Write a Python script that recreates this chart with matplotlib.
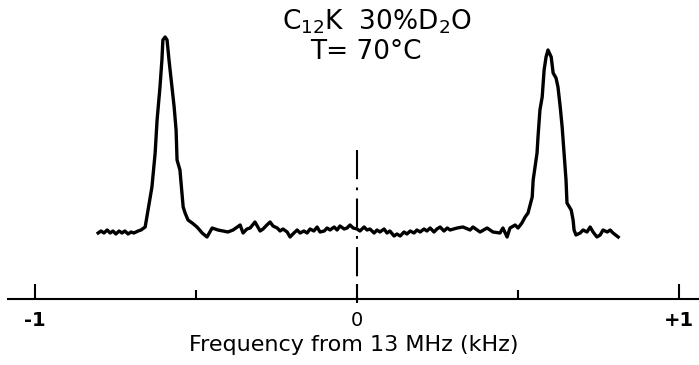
import numpy as np
import matplotlib
matplotlib.use("Agg")
import matplotlib.pyplot as plt

# NMR line shape, C12K 30% D2O at 70 C
freq_hz = [-804, -795, -786, -776, -767, -758, -749, -739, -730, -721, -711, -702, -693, -680, -671,
           -658, -649, -637, -627, -621, -612, -606, -603, -596, -590, -584, -575, -568, -562, -559,
           -550, -540, -534, -525, -512, -497, -481, -466,
           -450, -432, -416, -401, -385, -363, -354, -342, -332, -317, -301, -292, -280, -270, -261,
           -248, -239, -230, -217, -208, -196, -186, -177, -165, -155, -146, -134, -124, -115, -102,
           -93, -84, -71, -62, -53, -40, -31, -22, -12, 0, 9, 22, 31, 40, 53, 62, 71, 84, 93, 102,
           115, 124, 134, 146, 155, 165, 177, 186, 196, 208, 217, 227, 239, 248, 258, 270, 280, 289,
           311, 329, 351, 360, 382, 404, 422, 444, 453, 466, 475, 491, 500, 512, 522, 531, 544, 547,
           559, 562, 568, 575, 581, 587, 593, 603, 609, 618, 624, 631, 637, 643, 649, 652, 665, 671,
           674, 680, 693, 702, 714, 724, 733, 745, 755, 764, 777, 786, 795, 811]
signal = [0, 2, 0, 3, 0, 2, -1, 2, 0, 2, -1, 1, 0, 2, 3,
          6, 23, 46, 80, 113, 146, 173, 193, 196, 193, 173, 146, 126, 103, 73,
          63, 26, 20, 13, 10, 6, 0, -4,
          5, 3, 2, 1, 3, 8, 0, 4, 5, 11, 2, 4, 8, 11, 7,
          5, 2, 4, 1, -4, 0, 3, 0, 2, 0, 4, 2, 6, 1, 2,
          5, 3, 6, 3, 7, 4, 5, 8, 5, 4, 2, 6, 3, 4, 0, 3, 1, 4, 0, 2,
          -3, -1, -3, 1, -1, 2, 0, 3, 1, 4, 2, 5, 1, 4, 6, 2, 5, 3,
          5, 6, 3, 6, 1, 5, 1, 0, 5, -4, 5, 8, 5, 10, 16, 20, 36, 53,
          80, 96, 123, 136, 163, 176, 183, 176, 160, 155, 146, 126, 106, 80, 53, 30, 23, 13,
          3, -2, 0, 3, 1, 6, 1, -4, -2, 3, 1, 3, 0, -4]

tick_pos = [-1, 0, 1]
tick_labels = ["-1", "0", "+1"]
minor_pos = [-0.5, 0.5]

freq = np.array(freq_hz) / 1000.0

fig = plt.figure(figsize=(6.99, 3.65), dpi=100)
ax = fig.add_axes([8 / 699, 66 / 365, 691 / 699, 299 / 365])

ax.plot(freq, signal, color="black", lw=2.4, solid_joinstyle="round")

# dash-dot marker at the carrier frequency
ax.plot([0, 0], [83, -70], color="black", lw=1.5, dashes=(14, 4, 1.3, 4), clip_on=False)

ax.set_xlim(-1.084, 1.062)
ax.set_ylim(-66, 233)

for side in ["left", "top", "right"]:
    ax.spines[side].set_visible(False)
ax.spines["bottom"].set_linewidth(1.5)
ax.set_yticks([])

ax.set_xticks(tick_pos)
ax.set_xticklabels(tick_labels, fontsize=14, fontweight="bold")
ax.get_xticklabels()[1].set_fontweight("normal")
ax.set_xticks(minor_pos, minor=True)
ax.tick_params(axis="x", which="major", direction="in", length=11, width=1.5, pad=9)
ax.tick_params(axis="x", which="minor", direction="in", length=6.5, width=1.5)

ax.set_xlabel("Frequency from 13 MHz (kHz)", fontsize=16, labelpad=3)

fig.text(0.539, 0.94, r"C$_{12}$K  30%D$_2$O", fontsize=19, ha="center", va="center")
fig.text(0.524, 0.858, "T= 70°C", fontsize=19, ha="center", va="center")

fig.savefig("out.png", dpi=100)
